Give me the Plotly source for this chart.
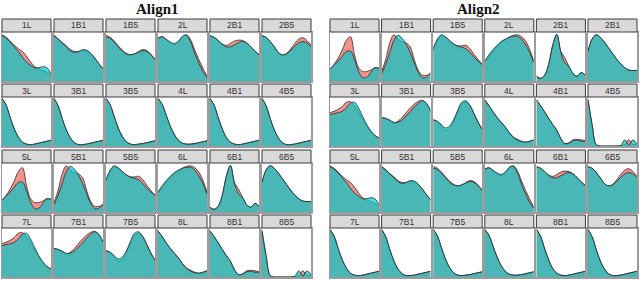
import plotly.graph_objects as go

# ---------------- data ----------------
X_GRID = [0.0, 0.083, 0.167, 0.25, 0.333, 0.417, 0.5, 0.583, 0.667, 0.75, 0.833, 0.917, 1.0]

LABELS_ALIGN1 = [
    ["1L", "1B1", "1B5", "2L", "2B1", "2B5"],
    ["3L", "3B1", "3B5", "4L", "4B1", "4B5"],
    ["5L", "5B1", "5B5", "6L", "6B1", "6B5"],
    ["7L", "7B1", "7B5", "8L", "8B1", "8B5"],
]
LABELS_ALIGN2 = [
    ["1L", "1B1", "1B5", "2L", "2B1", "2B1"],
    ["3L", "3B1", "3B5", "4L", "4B1", "4B5"],
    ["5L", "5B1", "5B5", "6L", "6B1", "6B5"],
    ["7L", "7B1", "7B5", "8L", "8B1", "8B5"],
]
# which density group each Align2 row shows
ALIGN2_GROUPS = [2, 3, 0, 1]

# density group A (Align1 row 1)
GROUP_A_RED = [
    [.97, .92, .84, .75, .68, .62, .52, .40, .30, .26, .22, .18, .12],
    [.96, .89, .81, .74, .66, .62, .62, .64, .63, .58, .48, .36, .26],
    [.96, .92, .84, .74, .65, .58, .55, .57, .62, .66, .64, .56, .46],
    [.90, .93, .87, .80, .77, .82, .93, .97, .86, .65, .45, .27, .10],
    [.95, .92, .85, .78, .75, .79, .84, .86, .85, .80, .72, .63, .56],
    [.95, .92, .83, .72, .60, .55, .58, .67, .79, .88, .91, .85, .75],
]
GROUP_A_CYAN = [
    [.95, .90, .82, .72, .62, .50, .40, .33, .28, .28, .30, .28, .15],
    [.95, .88, .80, .72, .64, .60, .62, .66, .65, .58, .48, .36, .26],
    [.92, .90, .82, .72, .63, .57, .55, .57, .61, .64, .62, .55, .45],
    [.90, .93, .88, .82, .79, .84, .94, .96, .82, .58, .38, .20, .08],
    [.95, .92, .85, .77, .72, .72, .76, .81, .83, .80, .72, .63, .55],
    [.95, .92, .83, .72, .60, .55, .57, .64, .73, .80, .83, .80, .72],
]
# density group B (Align1 row 2)
GROUP_B_RED = [
    [1.0, .86, .60, .36, .19, .08, .04, .03, .04, .06, .08, .10, .12],
    [1.0, .85, .58, .34, .17, .07, .03, .03, .04, .06, .08, .10, .12],
    [1.0, .87, .62, .38, .20, .09, .04, .03, .04, .05, .07, .09, .11],
    [1.0, .88, .65, .42, .24, .12, .06, .04, .04, .05, .07, .09, .11],
    [1.0, .86, .60, .36, .18, .08, .04, .03, .04, .06, .08, .10, .12],
    [1.0, .85, .58, .34, .17, .07, .03, .03, .04, .06, .08, .10, .12],
]
GROUP_B_CYAN = [
    [1.0, .86, .60, .36, .19, .08, .04, .03, .04, .06, .08, .10, .12],
    [1.0, .85, .58, .34, .17, .07, .03, .03, .04, .06, .08, .10, .12],
    [1.0, .87, .62, .38, .20, .09, .04, .03, .04, .05, .07, .09, .11],
    [1.0, .88, .65, .42, .24, .12, .06, .04, .04, .05, .07, .09, .11],
    [1.0, .86, .60, .36, .18, .08, .04, .03, .04, .06, .08, .10, .12],
    [1.0, .85, .58, .34, .17, .07, .03, .03, .04, .06, .08, .10, .12],
]
# density group C (Align1 row 3)
GROUP_C_RED = [
    [.25, .35, .48, .65, .85, .93, .55, .28, .20, .20, .23, .28, .27],
    [.20, .45, .80, .97, .88, .82, .80, .72, .45, .22, .12, .12, .14],
    [.65, .85, .95, .92, .85, .78, .74, .74, .75, .68, .56, .45, .35],
    [.40, .52, .63, .73, .81, .87, .92, .96, .97, .93, .84, .66, .42],
    [.10, .06, .12, .35, .75, .98, .62, .48, .30, .15, .10, .18, .12],
    [.62, .88, .97, .92, .82, .70, .58, .46, .36, .28, .23, .22, .22],
]
GROUP_C_CYAN = [
    [.25, .33, .42, .52, .62, .63, .45, .20, .07, .08, .18, .28, .26],
    [.15, .35, .60, .85, .96, .90, .78, .60, .38, .18, .07, .08, .18],
    [.68, .88, .97, .93, .85, .78, .73, .71, .68, .60, .50, .42, .35],
    [.42, .55, .66, .75, .83, .88, .92, .94, .94, .88, .76, .60, .38],
    [.10, .05, .12, .35, .75, .98, .60, .38, .30, .15, .10, .18, .12],
    [.62, .88, .97, .92, .82, .70, .58, .46, .36, .28, .23, .22, .22],
]
# density group D (Align1 row 4)
GROUP_D_RED = [
    [.70, .73, .77, .83, .92, .93, .85, .72, .57, .42, .30, .22, .17],
    [.60, .58, .54, .48, .52, .60, .70, .80, .88, .94, .96, .88, .73],
    [.55, .52, .43, .33, .37, .52, .72, .88, .92, .85, .68, .50, .35],
    [.97, .85, .72, .60, .50, .40, .28, .19, .14, .10, .08, .10, .13],
    [.97, .85, .72, .58, .45, .33, .15, .05, .07, .13, .14, .13, .11],
    [.97, .45, .03, 0.0, 0.0, 0.0, 0.0, 0.0, .01, .03, .13, .03, .04],
]
GROUP_D_CYAN = [
    [.66, .68, .70, .73, .80, .90, .92, .80, .62, .45, .32, .22, .17],
    [.60, .58, .54, .50, .50, .55, .63, .72, .82, .90, .95, .90, .74],
    [.55, .52, .45, .38, .42, .55, .75, .92, .95, .85, .68, .50, .35],
    [.97, .85, .72, .60, .50, .40, .28, .18, .12, .09, .08, .10, .13],
    [.97, .85, .72, .58, .45, .33, .15, .05, .06, .11, .12, .10, .10],
    [.97, .45, .03, 0.0, 0.0, 0.0, 0.0, 0.0, .01, .13, .02, .13, .04],
]

GROUPS_RED = [GROUP_A_RED, GROUP_B_RED, GROUP_C_RED, GROUP_D_RED]
GROUPS_CYAN = [GROUP_A_CYAN, GROUP_B_CYAN, GROUP_C_CYAN, GROUP_D_CYAN]

# ---------------- layout geometry (pixels) ----------------
W, H = 640, 281
PANEL_LEFTS = [2, 330]
COL_PITCH = [52, 51.6]
CELL_W = 49
STRIP_TOPS = [19, 84, 150, 215]
STRIP_H = 13
PLOT_H = 49

RED_FILL = "#F4918B"
CYAN_FILL = "rgba(0,200,200,0.70)"
LINE_COL = "#2b2b2b"


def px(x):
    return x / W


def py(y):
    return 1 - y / H


fig = go.Figure()
shapes = []
annotations = []
layout_axes = {}
n = 0
for p in range(2):
    labels = LABELS_ALIGN1 if p == 0 else LABELS_ALIGN2
    for r in range(4):
        g = r if p == 0 else ALIGN2_GROUPS[r]
        for c in range(6):
            n += 1
            left = PANEL_LEFTS[p] + c * COL_PITCH[p]
            right = left + CELL_W
            stop = STRIP_TOPS[r]
            ptop = stop + STRIP_H
            pbot = ptop + PLOT_H
            xa = "x" if n == 1 else f"x{n}"
            ya = "y" if n == 1 else f"y{n}"
            xk = "xaxis" if n == 1 else f"xaxis{n}"
            yk = "yaxis" if n == 1 else f"yaxis{n}"
            for vals, fc in ((GROUPS_RED[g][c], RED_FILL), (GROUPS_CYAN[g][c], CYAN_FILL)):
                fig.add_trace(go.Scatter(
                    x=X_GRID, y=vals, xaxis=xa, yaxis=ya, mode="lines",
                    line=dict(color=LINE_COL, width=0.8, shape="spline", smoothing=1.0),
                    fill="tozeroy", fillcolor=fc, showlegend=False, hoverinfo="skip"))
            common = dict(showticklabels=False, showgrid=False, zeroline=False,
                          showline=True, mirror=True, linecolor="#9c9c9c", linewidth=1.5,
                          ticks="")
            layout_axes[xk] = dict(domain=[px(left), px(right)], range=[0, 1],
                                   anchor=ya, **common)
            layout_axes[yk] = dict(domain=[py(pbot), py(ptop)], range=[0, 1.03],
                                   anchor=xa, **common)
            shapes.append(dict(type="rect", xref="paper", yref="paper",
                               x0=px(left), x1=px(right), y0=py(ptop), y1=py(stop),
                               fillcolor="#d9d9d9", line=dict(color="#3a3a3a", width=1)))
            annotations.append(dict(text=labels[r][c], xref="paper", yref="paper",
                                    x=px((left + right) / 2), y=py(stop + STRIP_H / 2),
                                    showarrow=False, xanchor="center", yanchor="middle",
                                    font=dict(family="Liberation Sans", size=8.5,
                                              color="#333333")))

for title, cx in (("Align1", 157), ("Align2", 478)):
    annotations.append(dict(text=f"<b>{title}</b>", xref="paper", yref="paper",
                            x=px(cx), y=py(9), showarrow=False,
                            xanchor="center", yanchor="middle",
                            font=dict(family="Liberation Serif", size=15, color="#111111")))

fig.update_layout(width=W, height=H, margin=dict(l=0, r=0, t=0, b=0),
                  paper_bgcolor="white", plot_bgcolor="white",
                  shapes=shapes, annotations=annotations, **layout_axes)

fig.write_html("out.html", config={"displayModeBar": False, "staticPlot": True},
               post_script="document.body.style.margin='0';document.body.style.overflow='hidden';")
